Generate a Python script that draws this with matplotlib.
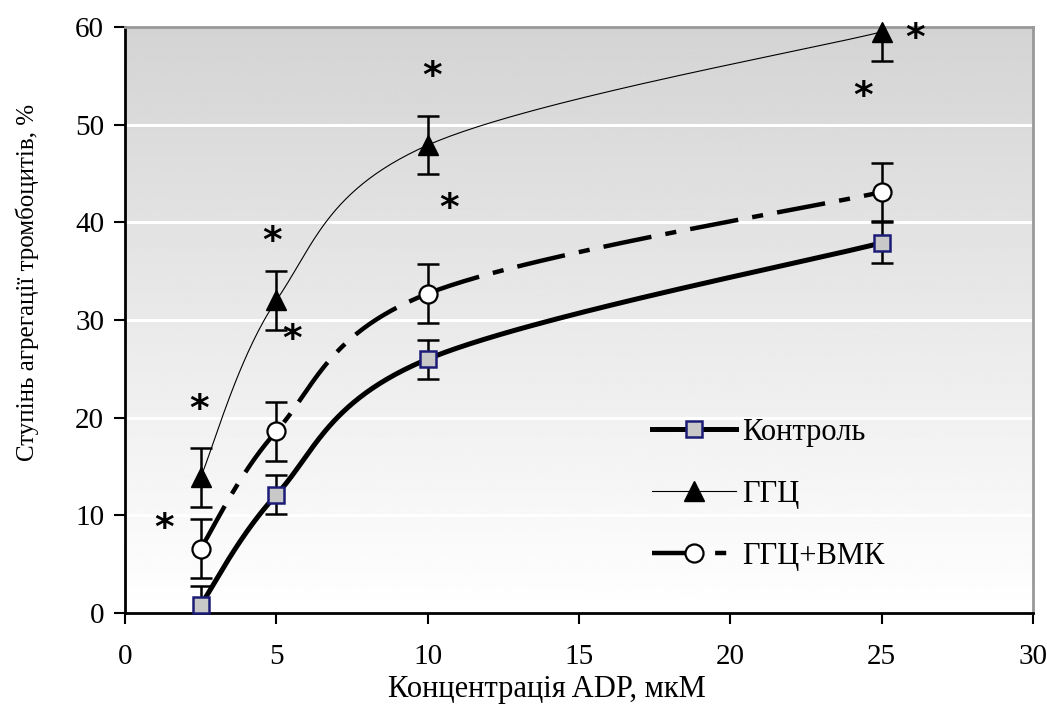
import numpy as np
import matplotlib
matplotlib.use("Agg")
import matplotlib.pyplot as plt
from matplotlib.lines import Line2D

plt.rcParams['font.family'] = ['Liberation Serif', 'DejaVu Serif']

# ---- data ----
adp = [2.5, 5, 10, 25]
control = [0.8, 12.1, 26.0, 37.9]
control_err = [2.0, 2.0, 2.0, 2.1]
ggc = [13.9, 32.0, 47.9, 59.5]
ggc_err = [3.0, 3.0, 3.0, 3.0]
ggc_vmk = [6.6, 18.6, 32.7, 43.1]
ggc_vmk_err = [3.0, 3.0, 3.0, 3.0]
star_x = [1.3, 2.45, 4.86, 5.52, 10.15, 10.7, 24.4, 26.1]
star_y = [8.6, 20.8, 38.0, 28.0, 54.9, 41.4, 52.8, 58.8]
labels = ['Контроль', 'ГГЦ', 'ГГЦ+ВМК']
xlabel = 'Концентрація ADP, мкМ'
ylabel = 'Ступінь агрегації тромбоцитів, %'

fig = plt.figure(figsize=(10.47, 7.06), dpi=100)
ax = fig.add_axes([125/1047, 1-613/706, (1033-125)/1047, (613-27)/706])
ax.set_xlim(0, 30)
ax.set_ylim(0, 60)

# gradient background
grad = np.linspace(1.0, 0.83, 256).reshape(-1, 1)
ax.imshow(grad, extent=[0, 30, 0, 60], origin='lower', aspect='auto',
          cmap='gray', vmin=0, vmax=1, zorder=0)
for yv in [10, 20, 30, 40, 50]:
    ax.axhline(yv, color='white', lw=2.2, zorder=1)

def smooth(xs, ys, sx=30.27, sy=9.77, n=60):
    P = np.column_stack([np.array(xs) * sx, np.array(ys) * sy])
    m = len(P)
    out = []
    for i in range(m - 1):
        p0 = P[i - 1] if i > 0 else P[i]
        p1 = P[i]
        p2 = P[i + 1]
        p3 = P[i + 2] if i + 2 < m else P[i + 1]
        c1 = p1 + (p2 - p0) / 6
        c2 = p2 - (p3 - p1) / 6
        t = np.linspace(0, 1, n)[:, None]
        seg = ((1 - t) ** 3) * p1 + 3 * ((1 - t) ** 2) * t * c1 + 3 * (1 - t) * t ** 2 * c2 + t ** 3 * p2
        out.append(seg if i == 0 else seg[1:])
    out = np.vstack(out)
    return out[:, 0] / sx, out[:, 1] / sy

DASH = (11, 3.2, 2.5, 3.2)

# curves
cx, cy = smooth(adp, control)
ax.plot(cx, cy, color='black', lw=3.6, zorder=3, solid_capstyle='butt')
gx, gy = smooth(adp, ggc)
ax.plot(gx, gy, color='black', lw=0.8, zorder=3)
vx, vy = smooth(adp, ggc_vmk)
ax.plot(vx, vy, color='black', lw=3.2, zorder=3, dashes=DASH, dash_capstyle='butt')

# error bars
eb = dict(fmt='none', ecolor='black', elinewidth=1.8, capsize=8, capthick=1.8, zorder=4)
ax.errorbar(adp, control, yerr=control_err, **eb)
ax.errorbar(adp, ggc, yerr=ggc_err, **eb)
ax.errorbar(adp, ggc_vmk, yerr=ggc_vmk_err, **eb)

# markers
ax.plot(adp, control, ls='none', marker='s', ms=12, mfc='#c8c8c8', mec='#1c1c78', mew=1.8, zorder=5, clip_on=False)
ax.plot(adp, ggc, ls='none', marker='^', ms=14, mfc='black', mec='black', zorder=5, clip_on=False)
ax.plot(adp, ggc_vmk, ls='none', marker='o', ms=13, mfc='white', mec='black', mew=1.6, zorder=5)

for sx_, sy_ in zip(star_x, star_y):
    ax.text(sx_, sy_, '*', fontsize=27, fontweight='bold', ha='center', va='center',
            family=['DejaVu Sans'], zorder=6)

# legend
h1 = Line2D([], [], color='black', lw=3.6, marker='s', ms=12, mfc='#c8c8c8', mec='#1c1c78', mew=1.8)
h2 = Line2D([], [], color='black', lw=0.8, marker='^', ms=14, mfc='black', mec='black')
h3 = Line2D([], [], color='black', lw=3.2, marker='o', ms=13, mfc='white', mec='black', mew=1.6,
            dashes=DASH)
leg = ax.legend([h1, h2, h3], labels, loc='upper left', bbox_to_anchor=((652-125)/908, (613-418)/586),
                frameon=False, fontsize=22, handlelength=2.75, handletextpad=0.2, labelspacing=1.08,
                borderaxespad=0, borderpad=0)
leg.set_zorder(7)

ax.set_xticks([0, 5, 10, 15, 20, 25, 30])
ax.set_yticks([0, 10, 20, 30, 40, 50, 60])
ax.tick_params(axis='both', direction='out', length=8, width=1.5, labelsize=21, pad=7, color='black')
ax.tick_params(axis='x', pad=14)
for s in ['left', 'bottom']:
    ax.spines[s].set_color('black')
    ax.spines[s].set_linewidth(2)
for s in ['top', 'right']:
    ax.spines[s].set_color('#999999')
    ax.spines[s].set_linewidth(2)
ax.set_xlabel(xlabel, fontsize=22, va='center')
ax.xaxis.set_label_coords((547-125)/908, -(690-613)/586)
ax.set_ylabel(ylabel, fontsize=18, va='center')
ax.yaxis.set_label_coords(-(125-27)/908, (613-282)/586)

fig.savefig('out.png', dpi=100)
